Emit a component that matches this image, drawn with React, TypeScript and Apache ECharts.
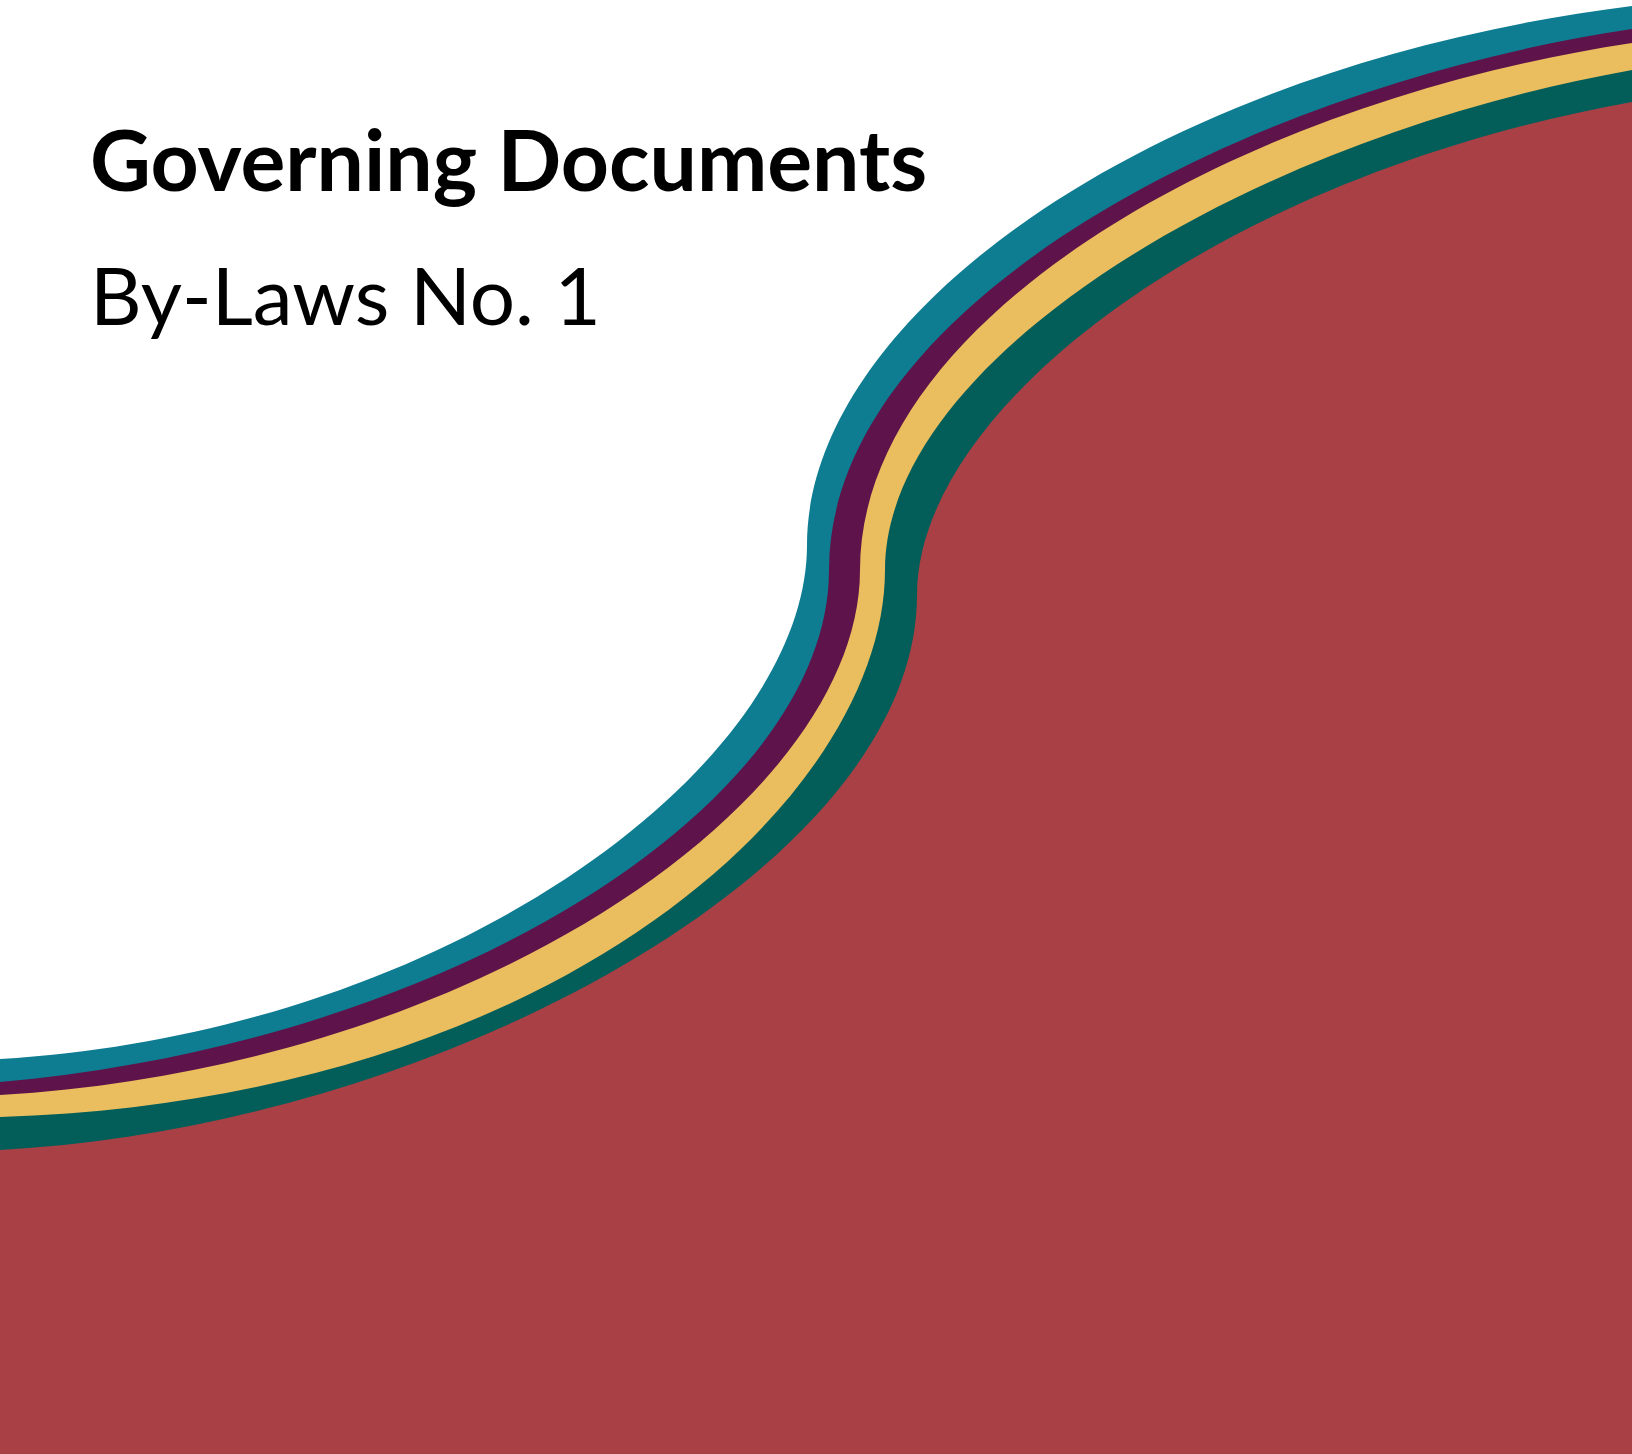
import React, { useEffect, useRef } from "react";
import * as echarts from "echarts";

const W = 1632;
const H = 1454;

const titleText = "Governing Documents";
const subtitleText = "By-Laws No. 1";

const bandNames = ["teal", "purple", "yellow", "green", "red"];
const bandColors = ["#0E7C91", "#5E144A", "#EABD5E", "#035E5A", "#A84045"];

// Upper edge of each band (x, y in pixels, y downward):
// left end, control, control, steep middle point, control, control, right end
const tealEdge = [[0, 1059], [450, 1032], [807, 765], [807, 545], [807, 315], [1152, 66], [1632, 6]];
const purpleEdge = [[0, 1082], [460, 1041], [829, 800], [829, 570], [829, 310], [1232, 89], [1632, 29]];
const yellowEdge = [[0, 1095], [480, 1066], [860, 800], [860, 570], [860, 320], [1232, 103], [1632, 43]];
const greenEdge = [[0, 1117], [560, 1100], [885, 795], [885, 570], [885, 365], [1232, 142], [1632, 70]];
const redEdge = [[0, 1150], [430, 1128], [917, 870], [917, 595], [917, 410], [1212, 178], [1632, 102]];

const edges = [tealEdge, purpleEdge, yellowEdge, greenEdge, redEdge];

function makeRenderItem(edge: number[][], color: string) {
  return (params: any, api: any) => {
    if (params.dataIndex !== 0) return null;
    const p = edge.map((pt) => api.coord(pt));
    const br = api.coord([W, H]);
    const bl = api.coord([0, H]);
    const f = (q: number[]) => q[0].toFixed(2) + " " + q[1].toFixed(2);
    const d =
      "M " + f(p[0]) +
      " C " + f(p[1]) + " " + f(p[2]) + " " + f(p[3]) +
      " C " + f(p[4]) + " " + f(p[5]) + " " + f(p[6]) +
      " L " + f(br) + " L " + f(bl) + " Z";
    return {
      type: "path",
      shape: { pathData: d },
      style: { fill: color, stroke: null },
      silent: true,
    };
  };
}

export default function App() {
  const ref = useRef<HTMLDivElement>(null);

  useEffect(() => {
    if (!ref.current) return;
    const chart = echarts.init(ref.current, undefined, { renderer: "svg" });
    chart.setOption({
      animation: false,
      backgroundColor: "#ffffff",
      grid: { left: 0, right: 0, top: 0, bottom: 0, containLabel: false },
      xAxis: { type: "value", min: 0, max: W, show: false },
      yAxis: { type: "value", min: 0, max: H, inverse: true, show: false },
      series: edges.map((edge, i) => ({
        name: bandNames[i],
        type: "custom",
        data: edge,
        encode: { x: 0, y: 1 },
        renderItem: makeRenderItem(edge, bandColors[i]),
        silent: true,
        clip: false,
        z: 2 + i,
      })),
      graphic: [
        {
          type: "text",
          x: 90,
          y: 116,
          z: 100,
          style: {
            text: titleText,
            fill: "#000000",
            fontFamily: "Lato",
            fontWeight: "bold",
            fontSize: 84,
            textVerticalAlign: "top",
          },
        },
        {
          type: "text",
          x: 90,
          y: 254,
          z: 100,
          style: {
            text: subtitleText,
            fill: "#000000",
            fontFamily: "Lato",
            fontWeight: "normal",
            fontSize: 80,
            textVerticalAlign: "top",
          },
        },
      ],
    });
    return () => chart.dispose();
  }, []);

  return (
    <div
      ref={ref}
      style={{ position: "absolute", left: 0, top: 0, width: W + "px", height: H + "px" }}
    />
  );
}
